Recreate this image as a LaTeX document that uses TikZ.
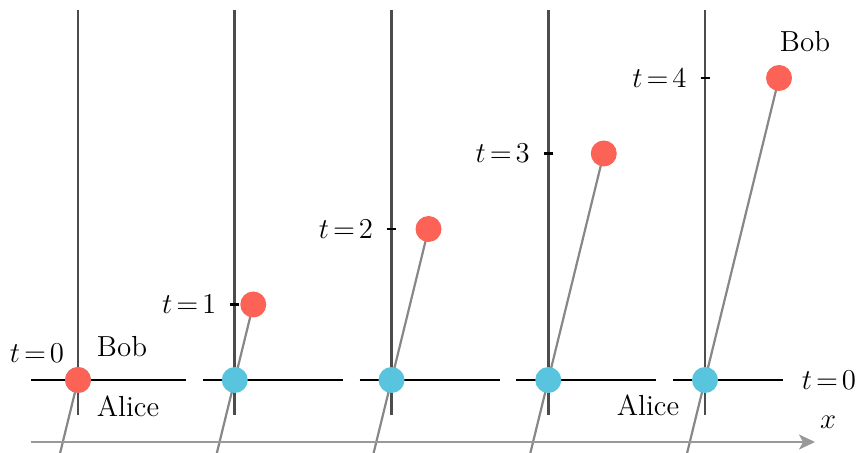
\documentclass[tikz,border=0pt]{standalone}
\usetikzlibrary{arrows.meta}
\definecolor{bobred}{HTML}{FC6255}
\definecolor{aliceblue}{HTML}{58C4DD}
\thickmuskip=2.5mu
\begin{document}
\begin{tikzpicture}[x=0.5pt,y=-0.5pt,
    every node/.style={font=\fontsize{14.5}{17}\selectfont},
    clock/.style={draw=black!70,line width=1.3pt},
    slice/.style={draw=black,line width=1.2pt},
    world/.style={draw=black!47,line width=1.1pt},
    dot/.style={circle,inner sep=0pt,minimum size=13pt},
    bobdot/.style={dot,fill=bobred},
    alicedot/.style={dot,fill=aliceblue}]
    \useasboundingbox (0,0) rectangle (865,453);
    \foreach \i in {0,...,4} {
        \pgfmathsetmacro\v{78+156.75*\i}
        \pgfmathsetmacro\bx{\v+18.5*\i}
        \pgfmathsetmacro\by{380-75.5*\i}
        \pgfmathsetmacro\sl{\i==0 ? -47 : -32}
        \pgfmathsetmacro\sr{\i==4 ? 78 : 108}
        \coordinate (top\i) at (\v,10);
        \coordinate (foot\i) at (\v,415);
        \coordinate (origin\i) at (\v,380);
        \coordinate (event\i) at (\bx,\by);
        \coordinate (end\i) at (\v-17.9,453);
        \draw[clock] (top\i) -- (foot\i);
        \draw[slice] (\v+\sl,380) -- (\v+\sr,380);
        \ifnum\i>0
            \draw[slice] (\v-4.5,\by) -- (\v+4.5,\by);
            \node[anchor=east,inner sep=0pt] (tick\i) at (\v-18,\by) {$t=\i$};
        \fi
        \draw[world] (event\i) -- (end\i);
        \node[alicedot] (alice\i) at (origin\i) {};
        \node[bobdot] (bob\i) at (event\i) {};
    }
    % Marcas del primer y del último cuadro.
    \node (tick0) at (37,353) {$t=0$};
    \node (bobA) at (122,347) {Bob};
    \node (aliceA) at (128,406) {Alice};
    \node (bobB) at (805,42) {Bob};
    \node (aliceB) at (648,405) {Alice};
    \node (slicelabel) at (829,380) {$t=0$};
    \coordinate (axisL) at (31,442);
    \coordinate (axisR) at (815,442);
    \draw[black!40,line width=1pt,-{Stealth[length=8pt,width=7.5pt,inset=2pt]}] (axisL) -- (axisR);
    \node (xlabel) at (828,422) {$x$};
\end{tikzpicture}
\end{document}
